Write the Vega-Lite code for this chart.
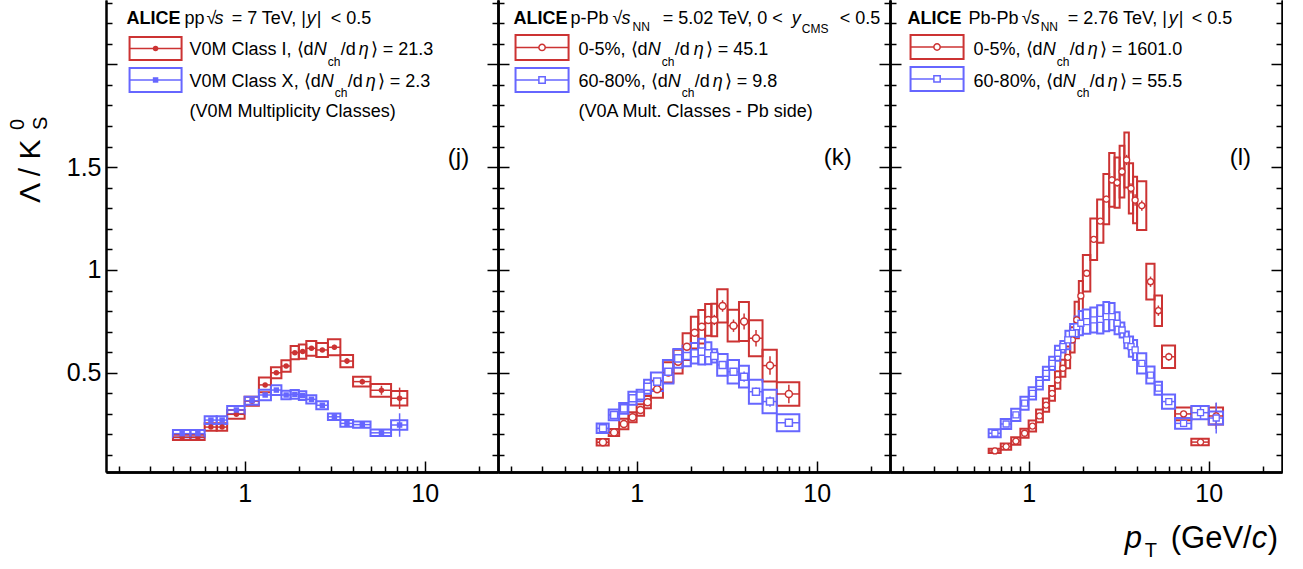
{
"$schema":"https://vega.github.io/schema/vega-lite/v6.json",
"background":"white",
"padding":{"left":8,"top":0,"right":0,"bottom":0},
"bounds":"flush",
"spacing":0,
"config":{"view":{"stroke":null},"axis":{"labelFont":"Liberation Sans","labelColor":"black","domainColor":"black","tickColor":"black","grid":false},"text":{"font":"Liberation Sans"}},
"datasets":{
"pts":[
{"p":"pp","c":"high","x0":0.4,"x1":0.5,"pt":0.45,"v":0.186,"s0":0.173,"s1":0.199,"st":0.003},
{"p":"pp","c":"high","x0":0.5,"x1":0.6,"pt":0.55,"v":0.186,"s0":0.173,"s1":0.199,"st":0.003},
{"p":"pp","c":"high","x0":0.6,"x1":0.7,"pt":0.65,"v":0.236,"s0":0.218,"s1":0.254,"st":0.003},
{"p":"pp","c":"high","x0":0.7,"x1":0.8,"pt":0.75,"v":0.236,"s0":0.218,"s1":0.254,"st":0.003},
{"p":"pp","c":"high","x0":0.8,"x1":1.0,"pt":0.9,"v":0.298,"s0":0.277,"s1":0.319,"st":0.004},
{"p":"pp","c":"high","x0":1.0,"x1":1.2,"pt":1.1,"v":0.362,"s0":0.340,"s1":0.384,"st":0.004},
{"p":"pp","c":"high","x0":1.2,"x1":1.4,"pt":1.3,"v":0.441,"s0":0.405,"s1":0.477,"st":0.006},
{"p":"pp","c":"high","x0":1.4,"x1":1.6,"pt":1.5,"v":0.500,"s0":0.473,"s1":0.527,"st":0.006},
{"p":"pp","c":"high","x0":1.6,"x1":1.8,"pt":1.7,"v":0.533,"s0":0.505,"s1":0.561,"st":0.007},
{"p":"pp","c":"high","x0":1.8,"x1":2.0,"pt":1.9,"v":0.598,"s0":0.566,"s1":0.630,"st":0.008},
{"p":"pp","c":"high","x0":2.0,"x1":2.2,"pt":2.1,"v":0.603,"s0":0.568,"s1":0.638,"st":0.008},
{"p":"pp","c":"high","x0":2.2,"x1":2.5,"pt":2.35,"v":0.619,"s0":0.583,"s1":0.655,"st":0.009},
{"p":"pp","c":"high","x0":2.5,"x1":2.9,"pt":2.7,"v":0.611,"s0":0.577,"s1":0.645,"st":0.010},
{"p":"pp","c":"high","x0":2.9,"x1":3.4,"pt":3.15,"v":0.624,"s0":0.585,"s1":0.663,"st":0.012},
{"p":"pp","c":"high","x0":3.4,"x1":4.0,"pt":3.7,"v":0.557,"s0":0.527,"s1":0.587,"st":0.014},
{"p":"pp","c":"high","x0":4.0,"x1":5.0,"pt":4.5,"v":0.457,"s0":0.433,"s1":0.481,"st":0.014},
{"p":"pp","c":"high","x0":5.0,"x1":6.5,"pt":5.75,"v":0.415,"s0":0.384,"s1":0.446,"st":0.022},
{"p":"pp","c":"high","x0":6.5,"x1":8.0,"pt":7.25,"v":0.376,"s0":0.341,"s1":0.411,"st":0.052},
{"p":"pp","c":"low","x0":0.4,"x1":0.5,"pt":0.45,"v":0.204,"s0":0.186,"s1":0.222,"st":0.003},
{"p":"pp","c":"low","x0":0.5,"x1":0.6,"pt":0.55,"v":0.204,"s0":0.186,"s1":0.222,"st":0.003},
{"p":"pp","c":"low","x0":0.6,"x1":0.7,"pt":0.65,"v":0.270,"s0":0.251,"s1":0.289,"st":0.003},
{"p":"pp","c":"low","x0":0.7,"x1":0.8,"pt":0.75,"v":0.270,"s0":0.251,"s1":0.289,"st":0.003},
{"p":"pp","c":"low","x0":0.8,"x1":1.0,"pt":0.9,"v":0.319,"s0":0.300,"s1":0.338,"st":0.004},
{"p":"pp","c":"low","x0":1.0,"x1":1.2,"pt":1.1,"v":0.364,"s0":0.344,"s1":0.384,"st":0.004},
{"p":"pp","c":"low","x0":1.2,"x1":1.4,"pt":1.3,"v":0.392,"s0":0.366,"s1":0.418,"st":0.005},
{"p":"pp","c":"low","x0":1.4,"x1":1.6,"pt":1.5,"v":0.416,"s0":0.392,"s1":0.440,"st":0.005},
{"p":"pp","c":"low","x0":1.6,"x1":1.8,"pt":1.7,"v":0.392,"s0":0.371,"s1":0.413,"st":0.005},
{"p":"pp","c":"low","x0":1.8,"x1":2.0,"pt":1.9,"v":0.395,"s0":0.374,"s1":0.416,"st":0.005},
{"p":"pp","c":"low","x0":2.0,"x1":2.2,"pt":2.1,"v":0.389,"s0":0.368,"s1":0.410,"st":0.006},
{"p":"pp","c":"low","x0":2.2,"x1":2.5,"pt":2.35,"v":0.371,"s0":0.351,"s1":0.391,"st":0.006},
{"p":"pp","c":"low","x0":2.5,"x1":2.9,"pt":2.7,"v":0.342,"s0":0.323,"s1":0.361,"st":0.006},
{"p":"pp","c":"low","x0":2.9,"x1":3.4,"pt":3.15,"v":0.286,"s0":0.270,"s1":0.302,"st":0.007},
{"p":"pp","c":"low","x0":3.4,"x1":4.0,"pt":3.7,"v":0.254,"s0":0.238,"s1":0.270,"st":0.008},
{"p":"pp","c":"low","x0":4.0,"x1":5.0,"pt":4.5,"v":0.248,"s0":0.233,"s1":0.263,"st":0.008},
{"p":"pp","c":"low","x0":5.0,"x1":6.5,"pt":5.75,"v":0.208,"s0":0.192,"s1":0.224,"st":0.018},
{"p":"pp","c":"low","x0":6.5,"x1":8.0,"pt":7.25,"v":0.246,"s0":0.223,"s1":0.269,"st":0.057},
{"p":"pPb","c":"high","x0":0.6,"x1":0.7,"pt":0.65,"v":0.162,"s0":0.146,"s1":0.178,"st":0.003},
{"p":"pPb","c":"high","x0":0.7,"x1":0.8,"pt":0.75,"v":0.210,"s0":0.193,"s1":0.227,"st":0.003},
{"p":"pPb","c":"high","x0":0.8,"x1":0.9,"pt":0.85,"v":0.251,"s0":0.225,"s1":0.277,"st":0.004},
{"p":"pPb","c":"high","x0":0.9,"x1":1.0,"pt":0.95,"v":0.284,"s0":0.260,"s1":0.308,"st":0.004},
{"p":"pPb","c":"high","x0":1.0,"x1":1.1,"pt":1.05,"v":0.319,"s0":0.291,"s1":0.347,"st":0.005},
{"p":"pPb","c":"high","x0":1.1,"x1":1.2,"pt":1.15,"v":0.357,"s0":0.327,"s1":0.387,"st":0.005},
{"p":"pPb","c":"high","x0":1.2,"x1":1.4,"pt":1.3,"v":0.420,"s0":0.379,"s1":0.461,"st":0.006},
{"p":"pPb","c":"high","x0":1.4,"x1":1.6,"pt":1.5,"v":0.502,"s0":0.453,"s1":0.551,"st":0.008},
{"p":"pPb","c":"high","x0":1.6,"x1":1.8,"pt":1.7,"v":0.554,"s0":0.496,"s1":0.612,"st":0.010},
{"p":"pPb","c":"high","x0":1.8,"x1":2.0,"pt":1.9,"v":0.627,"s0":0.562,"s1":0.692,"st":0.012},
{"p":"pPb","c":"high","x0":2.0,"x1":2.2,"pt":2.1,"v":0.695,"s0":0.618,"s1":0.772,"st":0.014},
{"p":"pPb","c":"high","x0":2.2,"x1":2.4,"pt":2.3,"v":0.724,"s0":0.643,"s1":0.805,"st":0.016},
{"p":"pPb","c":"high","x0":2.4,"x1":2.6,"pt":2.5,"v":0.757,"s0":0.680,"s1":0.834,"st":0.018},
{"p":"pPb","c":"high","x0":2.6,"x1":2.8,"pt":2.7,"v":0.757,"s0":0.678,"s1":0.836,"st":0.025},
{"p":"pPb","c":"high","x0":2.8,"x1":3.2,"pt":3.0,"v":0.825,"s0":0.744,"s1":0.906,"st":0.028},
{"p":"pPb","c":"high","x0":3.2,"x1":3.7,"pt":3.45,"v":0.729,"s0":0.652,"s1":0.806,"st":0.030},
{"p":"pPb","c":"high","x0":3.7,"x1":4.2,"pt":3.95,"v":0.749,"s0":0.654,"s1":0.844,"st":0.039},
{"p":"pPb","c":"high","x0":4.2,"x1":5.0,"pt":4.6,"v":0.668,"s0":0.580,"s1":0.756,"st":0.040},
{"p":"pPb","c":"high","x0":5.0,"x1":6.0,"pt":5.5,"v":0.535,"s0":0.458,"s1":0.612,"st":0.045},
{"p":"pPb","c":"high","x0":6.0,"x1":8.0,"pt":7.0,"v":0.397,"s0":0.340,"s1":0.454,"st":0.045},
{"p":"pPb","c":"low","x0":0.6,"x1":0.7,"pt":0.65,"v":0.230,"s0":0.207,"s1":0.253,"st":0.003},
{"p":"pPb","c":"low","x0":0.7,"x1":0.8,"pt":0.75,"v":0.295,"s0":0.269,"s1":0.321,"st":0.003},
{"p":"pPb","c":"low","x0":0.8,"x1":0.9,"pt":0.85,"v":0.327,"s0":0.301,"s1":0.353,"st":0.004},
{"p":"pPb","c":"low","x0":0.9,"x1":1.0,"pt":0.95,"v":0.376,"s0":0.344,"s1":0.408,"st":0.004},
{"p":"pPb","c":"low","x0":1.0,"x1":1.1,"pt":1.05,"v":0.389,"s0":0.361,"s1":0.417,"st":0.005},
{"p":"pPb","c":"low","x0":1.1,"x1":1.2,"pt":1.15,"v":0.432,"s0":0.398,"s1":0.466,"st":0.005},
{"p":"pPb","c":"low","x0":1.2,"x1":1.4,"pt":1.3,"v":0.457,"s0":0.412,"s1":0.502,"st":0.006},
{"p":"pPb","c":"low","x0":1.4,"x1":1.6,"pt":1.5,"v":0.505,"s0":0.448,"s1":0.562,"st":0.007},
{"p":"pPb","c":"low","x0":1.6,"x1":1.8,"pt":1.7,"v":0.570,"s0":0.524,"s1":0.616,"st":0.008},
{"p":"pPb","c":"low","x0":1.8,"x1":2.0,"pt":1.9,"v":0.582,"s0":0.532,"s1":0.632,"st":0.009},
{"p":"pPb","c":"low","x0":2.0,"x1":2.2,"pt":2.1,"v":0.595,"s0":0.545,"s1":0.645,"st":0.010},
{"p":"pPb","c":"low","x0":2.2,"x1":2.4,"pt":2.3,"v":0.603,"s0":0.540,"s1":0.666,"st":0.012},
{"p":"pPb","c":"low","x0":2.4,"x1":2.6,"pt":2.5,"v":0.595,"s0":0.542,"s1":0.648,"st":0.013},
{"p":"pPb","c":"low","x0":2.6,"x1":2.8,"pt":2.7,"v":0.582,"s0":0.550,"s1":0.614,"st":0.015},
{"p":"pPb","c":"low","x0":2.8,"x1":3.2,"pt":3.0,"v":0.538,"s0":0.485,"s1":0.591,"st":0.015},
{"p":"pPb","c":"low","x0":3.2,"x1":3.7,"pt":3.45,"v":0.505,"s0":0.448,"s1":0.562,"st":0.018},
{"p":"pPb","c":"low","x0":3.7,"x1":4.2,"pt":3.95,"v":0.481,"s0":0.428,"s1":0.534,"st":0.025},
{"p":"pPb","c":"low","x0":4.2,"x1":5.0,"pt":4.6,"v":0.408,"s0":0.350,"s1":0.466,"st":0.020},
{"p":"pPb","c":"low","x0":5.0,"x1":6.0,"pt":5.5,"v":0.360,"s0":0.303,"s1":0.417,"st":0.025},
{"p":"pPb","c":"low","x0":6.0,"x1":8.0,"pt":7.0,"v":0.257,"s0":0.216,"s1":0.298,"st":0.020},
{"p":"PbPb","c":"high","x0":0.6,"x1":0.7,"pt":0.65,"v":0.120,"s0":0.110,"s1":0.130,"st":0.002},
{"p":"PbPb","c":"high","x0":0.7,"x1":0.8,"pt":0.75,"v":0.141,"s0":0.126,"s1":0.156,"st":0.002},
{"p":"PbPb","c":"high","x0":0.8,"x1":0.9,"pt":0.85,"v":0.168,"s0":0.150,"s1":0.186,"st":0.002},
{"p":"PbPb","c":"high","x0":0.9,"x1":1.0,"pt":0.95,"v":0.206,"s0":0.184,"s1":0.228,"st":0.003},
{"p":"PbPb","c":"high","x0":1.0,"x1":1.1,"pt":1.05,"v":0.241,"s0":0.214,"s1":0.268,"st":0.003},
{"p":"PbPb","c":"high","x0":1.1,"x1":1.2,"pt":1.15,"v":0.290,"s0":0.259,"s1":0.321,"st":0.004},
{"p":"PbPb","c":"high","x0":1.2,"x1":1.3,"pt":1.25,"v":0.343,"s0":0.311,"s1":0.375,"st":0.004},
{"p":"PbPb","c":"high","x0":1.3,"x1":1.4,"pt":1.35,"v":0.400,"s0":0.364,"s1":0.436,"st":0.005},
{"p":"PbPb","c":"high","x0":1.4,"x1":1.5,"pt":1.45,"v":0.465,"s0":0.422,"s1":0.508,"st":0.005},
{"p":"PbPb","c":"high","x0":1.5,"x1":1.6,"pt":1.55,"v":0.522,"s0":0.481,"s1":0.563,"st":0.006},
{"p":"PbPb","c":"high","x0":1.6,"x1":1.7,"pt":1.65,"v":0.575,"s0":0.522,"s1":0.628,"st":0.006},
{"p":"PbPb","c":"high","x0":1.7,"x1":1.8,"pt":1.75,"v":0.660,"s0":0.599,"s1":0.721,"st":0.007},
{"p":"PbPb","c":"high","x0":1.8,"x1":1.9,"pt":1.85,"v":0.757,"s0":0.668,"s1":0.846,"st":0.008},
{"p":"PbPb","c":"high","x0":1.9,"x1":2.0,"pt":1.95,"v":0.874,"s0":0.801,"s1":0.947,"st":0.009},
{"p":"PbPb","c":"high","x0":2.0,"x1":2.2,"pt":2.1,"v":0.984,"s0":0.895,"s1":1.073,"st":0.010},
{"p":"PbPb","c":"high","x0":2.2,"x1":2.4,"pt":2.3,"v":1.149,"s0":1.048,"s1":1.250,"st":0.012},
{"p":"PbPb","c":"high","x0":2.4,"x1":2.6,"pt":2.5,"v":1.238,"s0":1.133,"s1":1.343,"st":0.014},
{"p":"PbPb","c":"high","x0":2.6,"x1":2.8,"pt":2.7,"v":1.345,"s0":1.223,"s1":1.467,"st":0.016},
{"p":"PbPb","c":"high","x0":2.8,"x1":3.0,"pt":2.9,"v":1.438,"s0":1.307,"s1":1.569,"st":0.018},
{"p":"PbPb","c":"high","x0":3.0,"x1":3.2,"pt":3.1,"v":1.425,"s0":1.303,"s1":1.547,"st":0.020},
{"p":"PbPb","c":"high","x0":3.2,"x1":3.4,"pt":3.3,"v":1.478,"s0":1.352,"s1":1.604,"st":0.022},
{"p":"PbPb","c":"high","x0":3.4,"x1":3.6,"pt":3.5,"v":1.535,"s0":1.401,"s1":1.669,"st":0.025},
{"p":"PbPb","c":"high","x0":3.6,"x1":3.8,"pt":3.7,"v":1.397,"s0":1.275,"s1":1.519,"st":0.025},
{"p":"PbPb","c":"high","x0":3.8,"x1":4.0,"pt":3.9,"v":1.340,"s0":1.227,"s1":1.453,"st":0.028},
{"p":"PbPb","c":"high","x0":4.0,"x1":4.5,"pt":4.25,"v":1.313,"s0":1.194,"s1":1.432,"st":0.025},
{"p":"PbPb","c":"high","x0":4.5,"x1":5.0,"pt":4.75,"v":0.943,"s0":0.856,"s1":1.030,"st":0.025},
{"p":"PbPb","c":"high","x0":5.0,"x1":5.5,"pt":5.25,"v":0.802,"s0":0.728,"s1":0.876,"st":0.025},
{"p":"PbPb","c":"high","x0":5.5,"x1":6.5,"pt":6.0,"v":0.578,"s0":0.523,"s1":0.633,"st":0.020},
{"p":"PbPb","c":"high","x0":6.5,"x1":8.0,"pt":7.25,"v":0.300,"s0":0.269,"s1":0.331,"st":0.015},
{"p":"PbPb","c":"high","x0":8.0,"x1":10.0,"pt":9.0,"v":0.163,"s0":0.147,"s1":0.179,"st":0.008},
{"p":"PbPb","c":"high","x0":10.0,"x1":12.0,"pt":11.0,"v":0.290,"s0":0.249,"s1":0.331,"st":0.063},
{"p":"PbPb","c":"low","x0":0.6,"x1":0.7,"pt":0.65,"v":0.206,"s0":0.187,"s1":0.225,"st":0.002},
{"p":"PbPb","c":"low","x0":0.7,"x1":0.8,"pt":0.75,"v":0.251,"s0":0.227,"s1":0.275,"st":0.002},
{"p":"PbPb","c":"low","x0":0.8,"x1":0.9,"pt":0.85,"v":0.295,"s0":0.265,"s1":0.325,"st":0.003},
{"p":"PbPb","c":"low","x0":0.9,"x1":1.0,"pt":0.95,"v":0.352,"s0":0.320,"s1":0.384,"st":0.003},
{"p":"PbPb","c":"low","x0":1.0,"x1":1.1,"pt":1.05,"v":0.400,"s0":0.370,"s1":0.430,"st":0.003},
{"p":"PbPb","c":"low","x0":1.1,"x1":1.2,"pt":1.15,"v":0.449,"s0":0.419,"s1":0.479,"st":0.004},
{"p":"PbPb","c":"low","x0":1.2,"x1":1.3,"pt":1.25,"v":0.497,"s0":0.465,"s1":0.529,"st":0.004},
{"p":"PbPb","c":"low","x0":1.3,"x1":1.4,"pt":1.35,"v":0.546,"s0":0.514,"s1":0.578,"st":0.004},
{"p":"PbPb","c":"low","x0":1.4,"x1":1.5,"pt":1.45,"v":0.595,"s0":0.559,"s1":0.631,"st":0.005},
{"p":"PbPb","c":"low","x0":1.5,"x1":1.6,"pt":1.55,"v":0.627,"s0":0.599,"s1":0.655,"st":0.005},
{"p":"PbPb","c":"low","x0":1.6,"x1":1.7,"pt":1.65,"v":0.660,"s0":0.615,"s1":0.705,"st":0.005},
{"p":"PbPb","c":"low","x0":1.7,"x1":1.8,"pt":1.75,"v":0.692,"s0":0.647,"s1":0.737,"st":0.006},
{"p":"PbPb","c":"low","x0":1.8,"x1":1.9,"pt":1.85,"v":0.724,"s0":0.674,"s1":0.774,"st":0.006},
{"p":"PbPb","c":"low","x0":1.9,"x1":2.0,"pt":1.95,"v":0.741,"s0":0.682,"s1":0.800,"st":0.006},
{"p":"PbPb","c":"low","x0":2.0,"x1":2.2,"pt":2.1,"v":0.749,"s0":0.690,"s1":0.808,"st":0.006},
{"p":"PbPb","c":"low","x0":2.2,"x1":2.4,"pt":2.3,"v":0.757,"s0":0.696,"s1":0.818,"st":0.007},
{"p":"PbPb","c":"low","x0":2.4,"x1":2.6,"pt":2.5,"v":0.760,"s0":0.691,"s1":0.829,"st":0.007},
{"p":"PbPb","c":"low","x0":2.6,"x1":2.8,"pt":2.7,"v":0.773,"s0":0.702,"s1":0.844,"st":0.008},
{"p":"PbPb","c":"low","x0":2.8,"x1":3.0,"pt":2.9,"v":0.773,"s0":0.707,"s1":0.839,"st":0.008},
{"p":"PbPb","c":"low","x0":3.0,"x1":3.2,"pt":3.1,"v":0.741,"s0":0.688,"s1":0.794,"st":0.009},
{"p":"PbPb","c":"low","x0":3.2,"x1":3.4,"pt":3.3,"v":0.708,"s0":0.672,"s1":0.744,"st":0.009},
{"p":"PbPb","c":"low","x0":3.4,"x1":3.6,"pt":3.5,"v":0.660,"s0":0.619,"s1":0.701,"st":0.010},
{"p":"PbPb","c":"low","x0":3.6,"x1":3.8,"pt":3.7,"v":0.627,"s0":0.578,"s1":0.676,"st":0.010},
{"p":"PbPb","c":"low","x0":3.8,"x1":4.0,"pt":3.9,"v":0.611,"s0":0.562,"s1":0.660,"st":0.011},
{"p":"PbPb","c":"low","x0":4.0,"x1":4.5,"pt":4.25,"v":0.546,"s0":0.497,"s1":0.595,"st":0.010},
{"p":"PbPb","c":"low","x0":4.5,"x1":5.0,"pt":4.75,"v":0.489,"s0":0.448,"s1":0.530,"st":0.010},
{"p":"PbPb","c":"low","x0":5.0,"x1":5.5,"pt":5.25,"v":0.425,"s0":0.393,"s1":0.457,"st":0.010},
{"p":"PbPb","c":"low","x0":5.5,"x1":6.5,"pt":6.0,"v":0.360,"s0":0.325,"s1":0.395,"st":0.010},
{"p":"PbPb","c":"low","x0":6.5,"x1":8.0,"pt":7.25,"v":0.254,"s0":0.228,"s1":0.280,"st":0.010},
{"p":"PbPb","c":"low","x0":8.0,"x1":10.0,"pt":9.0,"v":0.306,"s0":0.274,"s1":0.338,"st":0.030},
{"p":"PbPb","c":"low","x0":10.0,"x1":12.0,"pt":11.0,"v":0.280,"s0":0.248,"s1":0.312,"st":0.075}
],
"leg":[
{"p":"pp","c":"high","a":0.22974,"b":0.44668,"m":0.32034,"y0":2.0214,"y1":2.1333,"ym":2.0773},
{"p":"pp","c":"low","a":0.22974,"b":0.44668,"m":0.32034,"y0":1.8658,"y1":1.9825,"ym":1.9241},
{"p":"pPb","c":"high","a":0.21271,"b":0.41902,"m":0.29854,"y0":2.0214,"y1":2.1430,"ym":2.0822},
{"p":"pPb","c":"low","a":0.21271,"b":0.41902,"m":0.29854,"y0":1.8658,"y1":1.9825,"ym":1.9241},
{"p":"PbPb","c":"high","a":0.22105,"b":0.43541,"m":0.31016,"y0":2.0263,"y1":2.1430,"ym":2.0846},
{"p":"PbPb","c":"low","a":0.22105,"b":0.43541,"m":0.31016,"y0":1.8706,"y1":1.9874,"ym":1.9290}
],
"txt":[
{"p":"pp","k":"b","x":0.22105,"y":2.1965,"t":"ALICE"},
{"p":"pp","k":"n","x":0.46416,"y":2.1965,"t":"pp"},
{"p":"pp","k":"n","x":0.61497,"y":2.1965,"t":"√"},
{"p":"pp","k":"i","x":0.68129,"y":2.1965,"t":"s"},
{"p":"pp","k":"n","x":0.84697,"y":2.1965,"t":"= 7 TeV, |"},
{"p":"pp","k":"i","x":2.2104,"y":2.1965,"t":"y"},
{"p":"pp","k":"n","x":2.5119,"y":2.1965,"t":"|"},
{"p":"pp","k":"n","x":3.0042,"y":2.1965,"t":"< 0.5"},
{"p":"pp","k":"n","x":0.49492,"y":2.0457,"t":"V0M Class I, ⟨d"},
{"p":"pp","k":"i","x":2.4171,"y":2.0457,"t":"N"},
{"p":"pp","k":"sub","x":2.8917,"y":1.9922,"t":"ch"},
{"p":"pp","k":"n","x":3.4145,"y":2.0457,"t":"/d"},
{"p":"pp","k":"i","x":4.2987,"y":2.0457,"t":"η"},
{"p":"pp","k":"n","x":5.0119,"y":2.0457,"t":"⟩ = 21.3"},
{"p":"pp","k":"n","x":0.49492,"y":1.8901,"t":"V0M Class X, ⟨d"},
{"p":"pp","k":"i","x":2.6440,"y":1.8901,"t":"N"},
{"p":"pp","k":"sub","x":3.1623,"y":1.8414,"t":"ch"},
{"p":"pp","k":"n","x":3.7355,"y":1.8901,"t":"/d"},
{"p":"pp","k":"i","x":4.7011,"y":1.8901,"t":"η"},
{"p":"pp","k":"n","x":5.4829,"y":1.8901,"t":"⟩ = 2.3"},
{"p":"pp","k":"n","x":0.49492,"y":1.7442,"t":"(V0M Multiplicity Classes)"},
{"p":"pp","k":"lab","x":13.424,"y":1.5107,"t":"(j)"},
{"p":"pp","k":"yt","x":0.073564,"y":1.3259,"t":"Λ / K"},
{"p":"pp","k":"yts","x":0.05995,"y":1.6809,"t":"0"},
{"p":"pp","k":"yts","x":0.08040,"y":1.6809,"t":"S"},
{"p":"pPb","k":"b","x":0.20730,"y":2.1965,"t":"ALICE"},
{"p":"pPb","k":"n","x":0.42987,"y":2.1965,"t":"p-Pb"},
{"p":"pPb","k":"n","x":0.73580,"y":2.1965,"t":"√"},
{"p":"pPb","k":"i","x":0.82540,"y":2.1965,"t":"s"},
{"p":"pPb","k":"sub","x":0.94988,"y":2.1625,"t":"NN"},
{"p":"pPb","k":"n","x":1.3950,"y":2.1965,"t":"= 5.02 TeV, 0 <"},
{"p":"pPb","k":"i","x":7.2610,"y":2.1965,"t":"y"},
{"p":"pPb","k":"sub","x":8.2540,"y":2.1527,"t":"CMS"},
{"p":"pPb","k":"n","x":13.424,"y":2.1965,"t":"< 0.5"},
{"p":"pPb","k":"n","x":0.47622,"y":2.0457,"t":"0-5%, ⟨d"},
{"p":"pPb","k":"i","x":1.1512,"y":2.0457,"t":"N"},
{"p":"pPb","k":"sub","x":1.3765,"y":1.9922,"t":"ch"},
{"p":"pPb","k":"n","x":1.6262,"y":2.0457,"t":"/d"},
{"p":"pPb","k":"i","x":2.0730,"y":2.0457,"t":"η"},
{"p":"pPb","k":"n","x":2.4171,"y":2.0457,"t":"⟩ = 45.1"},
{"p":"pPb","k":"n","x":0.47622,"y":1.8901,"t":"60-80%, ⟨d"},
{"p":"pPb","k":"i","x":1.4867,"y":1.8901,"t":"N"},
{"p":"pPb","k":"sub","x":1.7783,"y":1.8414,"t":"ch"},
{"p":"pPb","k":"n","x":2.0999,"y":1.8901,"t":"/d"},
{"p":"pPb","k":"i","x":2.6440,"y":1.8901,"t":"η"},
{"p":"pPb","k":"n","x":3.0825,"y":1.8901,"t":"⟩ = 9.8"},
{"p":"pPb","k":"n","x":0.47622,"y":1.7442,"t":"(V0A Mult. Classes - Pb side)"},
{"p":"pPb","k":"lab","x":10.937,"y":1.5107,"t":"(k)"},
{"p":"PbPb","k":"b","x":0.21271,"y":2.1965,"t":"ALICE"},
{"p":"PbPb","k":"n","x":0.46416,"y":2.1965,"t":"Pb-Pb"},
{"p":"PbPb","k":"n","x":0.91444,"y":2.1965,"t":"√"},
{"p":"PbPb","k":"i","x":1.0259,"y":2.1965,"t":"s"},
{"p":"PbPb","k":"sub","x":1.1659,"y":2.1625,"t":"NN"},
{"p":"PbPb","k":"n","x":1.6470,"y":2.1965,"t":"= 2.76 TeV, |"},
{"p":"PbPb","k":"i","x":5.9948,"y":2.1965,"t":"y"},
{"p":"PbPb","k":"n","x":6.8129,"y":2.1965,"t":"|"},
{"p":"PbPb","k":"n","x":8.0460,"y":2.1965,"t":"< 0.5"},
{"p":"PbPb","k":"n","x":0.49492,"y":2.0457,"t":"0-5%, ⟨d"},
{"p":"PbPb","k":"i","x":1.1964,"y":2.0457,"t":"N"},
{"p":"PbPb","k":"sub","x":1.4307,"y":1.9922,"t":"ch"},
{"p":"PbPb","k":"n","x":1.6899,"y":2.0457,"t":"/d"},
{"p":"PbPb","k":"i","x":2.1275,"y":2.0457,"t":"η"},
{"p":"PbPb","k":"n","x":2.4800,"y":2.0457,"t":"⟩ = 1601.0"},
{"p":"PbPb","k":"n","x":0.49492,"y":1.8901,"t":"60-80%, ⟨d"},
{"p":"PbPb","k":"i","x":1.5446,"y":1.8901,"t":"N"},
{"p":"PbPb","k":"sub","x":1.8478,"y":1.8414,"t":"ch"},
{"p":"PbPb","k":"n","x":2.1825,"y":1.8901,"t":"/d"},
{"p":"PbPb","k":"i","x":2.7471,"y":1.8901,"t":"η"},
{"p":"PbPb","k":"n","x":3.2027,"y":1.8901,"t":"⟩ = 55.5"},
{"p":"PbPb","k":"lab","x":13.084,"y":1.5107,"t":"(l)"},
{"p":"PbPb","k":"xti","x":3.4145,"y":-0.35214,"t":"p"},
{"p":"PbPb","k":"xts","x":4.4116,"y":-0.39591,"t":"T"},
{"p":"PbPb","k":"xt","x":6.1497,"y":-0.35214,"t":"(GeV/"},
{"p":"PbPb","k":"xti","x":17.338,"y":-0.35214,"t":"c"},
{"p":"PbPb","k":"xt","x":21.276,"y":-0.35214,"t":")"}
]
},
"hconcat":[
{"width":392,"height":472,"resolve":{"axis":{"x":"independent","y":"independent"}},"layer":[
{"data":{"name":"pts"},"transform":[{"filter":"datum.p == 'pp'"}],"mark":{"type":"rect","filled":false,"strokeWidth":2},
"encoding":{"x":{"field":"x0","type":"quantitative","scale":{"type":"log","domain":[0.17,25.5],"nice":false},"axis":{"orient":"bottom","values":[1,10],"labelExpr":"datum.value < 5 ? '1' : '10'","tickSize":-11,"tickWidth":1.5,"domainWidth":2.5,"labelFontSize":25,"labelPadding":20,"labelOverlap":false,"labelBound":false,"labelFlush":false,"title":null}},
"x2":{"field":"x1"},
"y":{"field":"s0","type":"quantitative","scale":{"domain":[0.0175,2.313],"nice":false,"zero":false},"axis":{"orient":"left","values":[0.5,1,1.5,2],"labelExpr":"datum.value < 0.75 ? '0.5' : datum.value < 1.25 ? '1' : datum.value < 1.75 ? '1.5' : ''","tickSize":-11,"tickWidth":1.5,"domainWidth":2,"labelFontSize":25,"labelPadding":16,"labelOverlap":false,"labelBound":false,"labelFlush":false,"title":null}},
"y2":{"field":"s1"},
"color":{"field":"c","type":"nominal","scale":{"domain":["high","low"],"range":["#cc3333","#6666ff"]},"legend":null}}},
{"data":{"name":"pts"},"transform":[{"filter":"datum.p == 'pp'"}],"mark":{"type":"rule","strokeWidth":1.5},
"encoding":{"x":{"field":"x0","type":"quantitative","scale":{"type":"log","domain":[0.17,25.5],"nice":false},"axis":{"orient":"bottom","values":[0.2,0.3,0.4,0.5,0.6,0.7,0.8,0.9,2,3,4,5,6,7,8,9,20],"labels":false,"tickSize":-6,"tickWidth":1.5,"domainWidth":2.5,"title":null}},"x2":{"field":"x1"},
"y":{"field":"v","type":"quantitative","scale":{"domain":[0.0175,2.313],"nice":false,"zero":false},"axis":{"orient":"right","values":[0.5,1,1.5,2],"labels":false,"tickSize":-11,"tickWidth":1.5,"domainWidth":2,"title":null}},
"color":{"field":"c","type":"nominal","scale":{"domain":["high","low"],"range":["#cc3333","#6666ff"]},"legend":null}}},
{"data":{"name":"pts"},"transform":[{"filter":"datum.p == 'pp'"}],"mark":{"type":"errorbar","ticks":false,"thickness":1.5},
"encoding":{"x":{"field":"pt","type":"quantitative","scale":{"type":"log","domain":[0.17,25.5],"nice":false},"axis":null},"y":{"field":"v","type":"quantitative","scale":{"domain":[0.0175,2.313],"nice":false,"zero":false},"axis":null},"yError":{"field":"st"},
"color":{"field":"c","type":"nominal","scale":{"domain":["high","low"],"range":["#cc3333","#6666ff"]},"legend":null}}},
{"data":{"name":"pts"},"transform":[{"filter":"datum.p == 'pp'"}],"mark":{"type":"point","filled":true,"size":30,"opacity":1},
"encoding":{"x":{"field":"pt","type":"quantitative","scale":{"type":"log","domain":[0.17,25.5],"nice":false},"axis":null},"y":{"field":"v","type":"quantitative","scale":{"domain":[0.0175,2.313],"nice":false,"zero":false},"axis":{"orient":"right","values":[0.1,0.2,0.3,0.4,0.6,0.7,0.8,0.9,1.1,1.2,1.3,1.4,1.6,1.7,1.8,1.9,2.1,2.2,2.3],"labels":false,"tickSize":-6,"tickWidth":1.5,"domainWidth":2,"title":null}},
"color":{"field":"c","type":"nominal","scale":{"domain":["high","low"],"range":["#cc3333","#6666ff"]},"legend":null},
"shape":{"field":"c","type":"nominal","scale":{"domain":["high","low"],"range":["circle","square"]},"legend":null}}},
{"data":{"name":"leg"},"transform":[{"filter":"datum.p == 'pp'"}],"mark":{"type":"rect","filled":false,"strokeWidth":2},
"encoding":{"x":{"field":"a","type":"quantitative","scale":{"type":"log","domain":[0.17,25.5],"nice":false},"axis":null},"x2":{"field":"b"},"y":{"field":"y0","type":"quantitative","scale":{"domain":[0.0175,2.313],"nice":false,"zero":false},"axis":{"orient":"left","values":[0.1,0.2,0.3,0.4,0.6,0.7,0.8,0.9,1.1,1.2,1.3,1.4,1.6,1.7,1.8,1.9,2.1,2.2,2.3],"labels":false,"tickSize":-6,"tickWidth":1.5,"domainWidth":2,"title":null}},"y2":{"field":"y1"},
"color":{"field":"c","type":"nominal","scale":{"domain":["high","low"],"range":["#cc3333","#6666ff"]},"legend":null}}},
{"data":{"name":"leg"},"transform":[{"filter":"datum.p == 'pp'"}],"mark":{"type":"rule","strokeWidth":1.5},
"encoding":{"x":{"field":"a","type":"quantitative","scale":{"type":"log","domain":[0.17,25.5],"nice":false},"axis":null},"x2":{"field":"b"},"y":{"field":"ym","type":"quantitative","scale":{"domain":[0.0175,2.313],"nice":false,"zero":false},"axis":null},
"color":{"field":"c","type":"nominal","scale":{"domain":["high","low"],"range":["#cc3333","#6666ff"]},"legend":null}}},
{"data":{"name":"leg"},"transform":[{"filter":"datum.p == 'pp'"}],"mark":{"type":"point","filled":true,"size":30,"opacity":1},
"encoding":{"x":{"field":"m","type":"quantitative","scale":{"type":"log","domain":[0.17,25.5],"nice":false},"axis":null},"y":{"field":"ym","type":"quantitative","scale":{"domain":[0.0175,2.313],"nice":false,"zero":false},"axis":null},
"color":{"field":"c","type":"nominal","scale":{"domain":["high","low"],"range":["#cc3333","#6666ff"]},"legend":null},
"shape":{"field":"c","type":"nominal","scale":{"domain":["high","low"],"range":["circle","square"]},"legend":null}}},
{"data":{"name":"txt"},"transform":[{"filter":"datum.p == 'pp' && indexof(['n','sub','lab','xt','xts'], datum.k) >= 0"}],"mark":{"type":"text","align":"left","baseline":"alphabetic","font":"Liberation Sans","color":"black"},
"encoding":{"x":{"field":"x","type":"quantitative","scale":{"type":"log","domain":[0.17,25.5],"nice":false},"axis":null},"y":{"field":"y","type":"quantitative","scale":{"domain":[0.0175,2.313],"nice":false,"zero":false},"axis":null},"text":{"field":"t"},
"size":{"field":"k","type":"nominal","scale":{"type":"ordinal","domain":["b","n","i","sub","lab","xt","xti","xts","yt","yts"],"range":[18,18,18,12,24,31,31,20,30,20]},"legend":null}}},
{"data":{"name":"txt"},"transform":[{"filter":"datum.p == 'pp' && datum.k == 'b'"}],"mark":{"type":"text","align":"left","baseline":"alphabetic","font":"Liberation Sans","fontWeight":"bold","fontSize":18,"color":"black"},
"encoding":{"x":{"field":"x","type":"quantitative","scale":{"type":"log","domain":[0.17,25.5],"nice":false},"axis":null},"y":{"field":"y","type":"quantitative","scale":{"domain":[0.0175,2.313],"nice":false,"zero":false},"axis":null},"text":{"field":"t"}}},
{"data":{"name":"txt"},"transform":[{"filter":"datum.p == 'pp' && indexof(['i','xti'], datum.k) >= 0"}],"mark":{"type":"text","align":"left","baseline":"alphabetic","font":"Liberation Sans","fontStyle":"italic","color":"black"},
"encoding":{"x":{"field":"x","type":"quantitative","scale":{"type":"log","domain":[0.17,25.5],"nice":false},"axis":null},"y":{"field":"y","type":"quantitative","scale":{"domain":[0.0175,2.313],"nice":false,"zero":false},"axis":null},"text":{"field":"t"},
"size":{"field":"k","type":"nominal","scale":{"type":"ordinal","domain":["b","n","i","sub","lab","xt","xti","xts","yt","yts"],"range":[18,18,18,12,24,31,31,20,30,20]},"legend":null}}},
{"data":{"name":"txt"},"transform":[{"filter":"datum.p == 'pp' && indexof(['yt','yts'], datum.k) >= 0"}],"mark":{"type":"text","align":"left","baseline":"alphabetic","font":"Liberation Sans","angle":270,"color":"black"},
"encoding":{"x":{"field":"x","type":"quantitative","scale":{"type":"log","domain":[0.17,25.5],"nice":false},"axis":null},"y":{"field":"y","type":"quantitative","scale":{"domain":[0.0175,2.313],"nice":false,"zero":false},"axis":null},"text":{"field":"t"},
"size":{"field":"k","type":"nominal","scale":{"type":"ordinal","domain":["b","n","i","sub","lab","xt","xti","xts","yt","yts"],"range":[18,18,18,12,24,31,31,20,30,20]},"legend":null}}}
]},
{"width":392,"height":472,"resolve":{"axis":{"x":"independent","y":"independent"}},"layer":[
{"data":{"name":"pts"},"transform":[{"filter":"datum.p == 'pPb'"}],"mark":{"type":"rect","filled":false,"strokeWidth":2},
"encoding":{"x":{"field":"x0","type":"quantitative","scale":{"type":"log","domain":[0.17,25.5],"nice":false},"axis":{"orient":"bottom","values":[1,10],"labelExpr":"datum.value < 5 ? '1' : '10'","tickSize":-11,"tickWidth":1.5,"domainWidth":2.5,"labelFontSize":25,"labelPadding":20,"labelOverlap":false,"labelBound":false,"labelFlush":false,"title":null}},
"x2":{"field":"x1"},
"y":{"field":"s0","type":"quantitative","scale":{"domain":[0.0175,2.313],"nice":false,"zero":false},"axis":{"orient":"left","values":[0.5,1,1.5,2],"labels":false,"tickSize":-11,"tickWidth":1.5,"domainWidth":2,"title":null}},
"y2":{"field":"s1"},
"color":{"field":"c","type":"nominal","scale":{"domain":["high","low"],"range":["#cc3333","#6666ff"]},"legend":null}}},
{"data":{"name":"pts"},"transform":[{"filter":"datum.p == 'pPb'"}],"mark":{"type":"rule","strokeWidth":1.5},
"encoding":{"x":{"field":"x0","type":"quantitative","scale":{"type":"log","domain":[0.17,25.5],"nice":false},"axis":{"orient":"bottom","values":[0.2,0.3,0.4,0.5,0.6,0.7,0.8,0.9,2,3,4,5,6,7,8,9,20],"labels":false,"tickSize":-6,"tickWidth":1.5,"domainWidth":2.5,"title":null}},"x2":{"field":"x1"},
"y":{"field":"v","type":"quantitative","scale":{"domain":[0.0175,2.313],"nice":false,"zero":false},"axis":{"orient":"right","values":[0.5,1,1.5,2],"labels":false,"tickSize":-11,"tickWidth":1.5,"domainWidth":2,"title":null}},
"color":{"field":"c","type":"nominal","scale":{"domain":["high","low"],"range":["#cc3333","#6666ff"]},"legend":null}}},
{"data":{"name":"pts"},"transform":[{"filter":"datum.p == 'pPb'"}],"mark":{"type":"errorbar","ticks":false,"thickness":1.5},
"encoding":{"x":{"field":"pt","type":"quantitative","scale":{"type":"log","domain":[0.17,25.5],"nice":false},"axis":null},"y":{"field":"v","type":"quantitative","scale":{"domain":[0.0175,2.313],"nice":false,"zero":false},"axis":null},"yError":{"field":"st"},
"color":{"field":"c","type":"nominal","scale":{"domain":["high","low"],"range":["#cc3333","#6666ff"]},"legend":null}}},
{"data":{"name":"pts"},"transform":[{"filter":"datum.p == 'pPb'"}],"mark":{"type":"point","filled":false,"fill":"white","strokeWidth":1.5,"size":50,"opacity":1},
"encoding":{"x":{"field":"pt","type":"quantitative","scale":{"type":"log","domain":[0.17,25.5],"nice":false},"axis":null},"y":{"field":"v","type":"quantitative","scale":{"domain":[0.0175,2.313],"nice":false,"zero":false},"axis":{"orient":"right","values":[0.1,0.2,0.3,0.4,0.6,0.7,0.8,0.9,1.1,1.2,1.3,1.4,1.6,1.7,1.8,1.9,2.1,2.2,2.3],"labels":false,"tickSize":-6,"tickWidth":1.5,"domainWidth":2,"title":null}},
"color":{"field":"c","type":"nominal","scale":{"domain":["high","low"],"range":["#cc3333","#6666ff"]},"legend":null},
"shape":{"field":"c","type":"nominal","scale":{"domain":["high","low"],"range":["circle","square"]},"legend":null}}},
{"data":{"name":"leg"},"transform":[{"filter":"datum.p == 'pPb'"}],"mark":{"type":"rect","filled":false,"strokeWidth":2},
"encoding":{"x":{"field":"a","type":"quantitative","scale":{"type":"log","domain":[0.17,25.5],"nice":false},"axis":null},"x2":{"field":"b"},"y":{"field":"y0","type":"quantitative","scale":{"domain":[0.0175,2.313],"nice":false,"zero":false},"axis":{"orient":"left","values":[0.1,0.2,0.3,0.4,0.6,0.7,0.8,0.9,1.1,1.2,1.3,1.4,1.6,1.7,1.8,1.9,2.1,2.2,2.3],"labels":false,"tickSize":-6,"tickWidth":1.5,"domainWidth":2,"title":null}},"y2":{"field":"y1"},
"color":{"field":"c","type":"nominal","scale":{"domain":["high","low"],"range":["#cc3333","#6666ff"]},"legend":null}}},
{"data":{"name":"leg"},"transform":[{"filter":"datum.p == 'pPb'"}],"mark":{"type":"rule","strokeWidth":1.5},
"encoding":{"x":{"field":"a","type":"quantitative","scale":{"type":"log","domain":[0.17,25.5],"nice":false},"axis":null},"x2":{"field":"b"},"y":{"field":"ym","type":"quantitative","scale":{"domain":[0.0175,2.313],"nice":false,"zero":false},"axis":null},
"color":{"field":"c","type":"nominal","scale":{"domain":["high","low"],"range":["#cc3333","#6666ff"]},"legend":null}}},
{"data":{"name":"leg"},"transform":[{"filter":"datum.p == 'pPb'"}],"mark":{"type":"point","filled":false,"fill":"white","strokeWidth":1.5,"size":40,"opacity":1},
"encoding":{"x":{"field":"m","type":"quantitative","scale":{"type":"log","domain":[0.17,25.5],"nice":false},"axis":null},"y":{"field":"ym","type":"quantitative","scale":{"domain":[0.0175,2.313],"nice":false,"zero":false},"axis":null},
"color":{"field":"c","type":"nominal","scale":{"domain":["high","low"],"range":["#cc3333","#6666ff"]},"legend":null},
"shape":{"field":"c","type":"nominal","scale":{"domain":["high","low"],"range":["circle","square"]},"legend":null}}},
{"data":{"name":"txt"},"transform":[{"filter":"datum.p == 'pPb' && indexof(['n','sub','lab','xt','xts'], datum.k) >= 0"}],"mark":{"type":"text","align":"left","baseline":"alphabetic","font":"Liberation Sans","color":"black"},
"encoding":{"x":{"field":"x","type":"quantitative","scale":{"type":"log","domain":[0.17,25.5],"nice":false},"axis":null},"y":{"field":"y","type":"quantitative","scale":{"domain":[0.0175,2.313],"nice":false,"zero":false},"axis":null},"text":{"field":"t"},
"size":{"field":"k","type":"nominal","scale":{"type":"ordinal","domain":["b","n","i","sub","lab","xt","xti","xts","yt","yts"],"range":[18,18,18,12,24,31,31,20,30,20]},"legend":null}}},
{"data":{"name":"txt"},"transform":[{"filter":"datum.p == 'pPb' && datum.k == 'b'"}],"mark":{"type":"text","align":"left","baseline":"alphabetic","font":"Liberation Sans","fontWeight":"bold","fontSize":18,"color":"black"},
"encoding":{"x":{"field":"x","type":"quantitative","scale":{"type":"log","domain":[0.17,25.5],"nice":false},"axis":null},"y":{"field":"y","type":"quantitative","scale":{"domain":[0.0175,2.313],"nice":false,"zero":false},"axis":null},"text":{"field":"t"}}},
{"data":{"name":"txt"},"transform":[{"filter":"datum.p == 'pPb' && indexof(['i','xti'], datum.k) >= 0"}],"mark":{"type":"text","align":"left","baseline":"alphabetic","font":"Liberation Sans","fontStyle":"italic","color":"black"},
"encoding":{"x":{"field":"x","type":"quantitative","scale":{"type":"log","domain":[0.17,25.5],"nice":false},"axis":null},"y":{"field":"y","type":"quantitative","scale":{"domain":[0.0175,2.313],"nice":false,"zero":false},"axis":null},"text":{"field":"t"},
"size":{"field":"k","type":"nominal","scale":{"type":"ordinal","domain":["b","n","i","sub","lab","xt","xti","xts","yt","yts"],"range":[18,18,18,12,24,31,31,20,30,20]},"legend":null}}}
]},
{"width":392,"height":472,"resolve":{"axis":{"x":"independent","y":"independent"}},"layer":[
{"data":{"name":"pts"},"transform":[{"filter":"datum.p == 'PbPb'"}],"mark":{"type":"rect","filled":false,"strokeWidth":2},
"encoding":{"x":{"field":"x0","type":"quantitative","scale":{"type":"log","domain":[0.17,25.5],"nice":false},"axis":{"orient":"bottom","values":[1,10],"labelExpr":"datum.value < 5 ? '1' : '10'","tickSize":-11,"tickWidth":1.5,"domainWidth":2.5,"labelFontSize":25,"labelPadding":20,"labelOverlap":false,"labelBound":false,"labelFlush":false,"title":null}},
"x2":{"field":"x1"},
"y":{"field":"s0","type":"quantitative","scale":{"domain":[0.0175,2.313],"nice":false,"zero":false},"axis":{"orient":"left","values":[0.5,1,1.5,2],"labels":false,"tickSize":-11,"tickWidth":1.5,"domainWidth":2,"title":null}},
"y2":{"field":"s1"},
"color":{"field":"c","type":"nominal","scale":{"domain":["high","low"],"range":["#cc3333","#6666ff"]},"legend":null}}},
{"data":{"name":"pts"},"transform":[{"filter":"datum.p == 'PbPb'"}],"mark":{"type":"rule","strokeWidth":1.5},
"encoding":{"x":{"field":"x0","type":"quantitative","scale":{"type":"log","domain":[0.17,25.5],"nice":false},"axis":{"orient":"bottom","values":[0.2,0.3,0.4,0.5,0.6,0.7,0.8,0.9,2,3,4,5,6,7,8,9,20],"labels":false,"tickSize":-6,"tickWidth":1.5,"domainWidth":2.5,"title":null}},"x2":{"field":"x1"},
"y":{"field":"v","type":"quantitative","scale":{"domain":[0.0175,2.313],"nice":false,"zero":false},"axis":{"orient":"right","values":[0.5,1,1.5,2],"labels":false,"tickSize":-11,"tickWidth":1.5,"domainWidth":2,"title":null}},
"color":{"field":"c","type":"nominal","scale":{"domain":["high","low"],"range":["#cc3333","#6666ff"]},"legend":null}}},
{"data":{"name":"pts"},"transform":[{"filter":"datum.p == 'PbPb'"}],"mark":{"type":"errorbar","ticks":false,"thickness":1.5},
"encoding":{"x":{"field":"pt","type":"quantitative","scale":{"type":"log","domain":[0.17,25.5],"nice":false},"axis":null},"y":{"field":"v","type":"quantitative","scale":{"domain":[0.0175,2.313],"nice":false,"zero":false},"axis":null},"yError":{"field":"st"},
"color":{"field":"c","type":"nominal","scale":{"domain":["high","low"],"range":["#cc3333","#6666ff"]},"legend":null}}},
{"data":{"name":"pts"},"transform":[{"filter":"datum.p == 'PbPb'"}],"mark":{"type":"point","filled":false,"fill":"white","strokeWidth":1.3,"size":36,"opacity":1},
"encoding":{"x":{"field":"pt","type":"quantitative","scale":{"type":"log","domain":[0.17,25.5],"nice":false},"axis":null},"y":{"field":"v","type":"quantitative","scale":{"domain":[0.0175,2.313],"nice":false,"zero":false},"axis":{"orient":"right","values":[0.1,0.2,0.3,0.4,0.6,0.7,0.8,0.9,1.1,1.2,1.3,1.4,1.6,1.7,1.8,1.9,2.1,2.2,2.3],"labels":false,"tickSize":-6,"tickWidth":1.5,"domainWidth":2,"title":null}},
"color":{"field":"c","type":"nominal","scale":{"domain":["high","low"],"range":["#cc3333","#6666ff"]},"legend":null},
"shape":{"field":"c","type":"nominal","scale":{"domain":["high","low"],"range":["circle","square"]},"legend":null}}},
{"data":{"name":"leg"},"transform":[{"filter":"datum.p == 'PbPb'"}],"mark":{"type":"rect","filled":false,"strokeWidth":2},
"encoding":{"x":{"field":"a","type":"quantitative","scale":{"type":"log","domain":[0.17,25.5],"nice":false},"axis":null},"x2":{"field":"b"},"y":{"field":"y0","type":"quantitative","scale":{"domain":[0.0175,2.313],"nice":false,"zero":false},"axis":{"orient":"left","values":[0.1,0.2,0.3,0.4,0.6,0.7,0.8,0.9,1.1,1.2,1.3,1.4,1.6,1.7,1.8,1.9,2.1,2.2,2.3],"labels":false,"tickSize":-6,"tickWidth":1.5,"domainWidth":2,"title":null}},"y2":{"field":"y1"},
"color":{"field":"c","type":"nominal","scale":{"domain":["high","low"],"range":["#cc3333","#6666ff"]},"legend":null}}},
{"data":{"name":"leg"},"transform":[{"filter":"datum.p == 'PbPb'"}],"mark":{"type":"rule","strokeWidth":1.5},
"encoding":{"x":{"field":"a","type":"quantitative","scale":{"type":"log","domain":[0.17,25.5],"nice":false},"axis":null},"x2":{"field":"b"},"y":{"field":"ym","type":"quantitative","scale":{"domain":[0.0175,2.313],"nice":false,"zero":false},"axis":null},
"color":{"field":"c","type":"nominal","scale":{"domain":["high","low"],"range":["#cc3333","#6666ff"]},"legend":null}}},
{"data":{"name":"leg"},"transform":[{"filter":"datum.p == 'PbPb'"}],"mark":{"type":"point","filled":false,"fill":"white","strokeWidth":1.5,"size":40,"opacity":1},
"encoding":{"x":{"field":"m","type":"quantitative","scale":{"type":"log","domain":[0.17,25.5],"nice":false},"axis":null},"y":{"field":"ym","type":"quantitative","scale":{"domain":[0.0175,2.313],"nice":false,"zero":false},"axis":null},
"color":{"field":"c","type":"nominal","scale":{"domain":["high","low"],"range":["#cc3333","#6666ff"]},"legend":null},
"shape":{"field":"c","type":"nominal","scale":{"domain":["high","low"],"range":["circle","square"]},"legend":null}}},
{"data":{"name":"txt"},"transform":[{"filter":"datum.p == 'PbPb' && indexof(['n','sub','lab','xt','xts'], datum.k) >= 0"}],"mark":{"type":"text","align":"left","baseline":"alphabetic","font":"Liberation Sans","color":"black"},
"encoding":{"x":{"field":"x","type":"quantitative","scale":{"type":"log","domain":[0.17,25.5],"nice":false},"axis":null},"y":{"field":"y","type":"quantitative","scale":{"domain":[0.0175,2.313],"nice":false,"zero":false},"axis":null},"text":{"field":"t"},
"size":{"field":"k","type":"nominal","scale":{"type":"ordinal","domain":["b","n","i","sub","lab","xt","xti","xts","yt","yts"],"range":[18,18,18,12,24,31,31,20,30,20]},"legend":null}}},
{"data":{"name":"txt"},"transform":[{"filter":"datum.p == 'PbPb' && datum.k == 'b'"}],"mark":{"type":"text","align":"left","baseline":"alphabetic","font":"Liberation Sans","fontWeight":"bold","fontSize":18,"color":"black"},
"encoding":{"x":{"field":"x","type":"quantitative","scale":{"type":"log","domain":[0.17,25.5],"nice":false},"axis":null},"y":{"field":"y","type":"quantitative","scale":{"domain":[0.0175,2.313],"nice":false,"zero":false},"axis":null},"text":{"field":"t"}}},
{"data":{"name":"txt"},"transform":[{"filter":"datum.p == 'PbPb' && indexof(['i','xti'], datum.k) >= 0"}],"mark":{"type":"text","align":"left","baseline":"alphabetic","font":"Liberation Sans","fontStyle":"italic","color":"black"},
"encoding":{"x":{"field":"x","type":"quantitative","scale":{"type":"log","domain":[0.17,25.5],"nice":false},"axis":null},"y":{"field":"y","type":"quantitative","scale":{"domain":[0.0175,2.313],"nice":false,"zero":false},"axis":null},"text":{"field":"t"},
"size":{"field":"k","type":"nominal","scale":{"type":"ordinal","domain":["b","n","i","sub","lab","xt","xti","xts","yt","yts"],"range":[18,18,18,12,24,31,31,20,30,20]},"legend":null}}}
]}
]
}
